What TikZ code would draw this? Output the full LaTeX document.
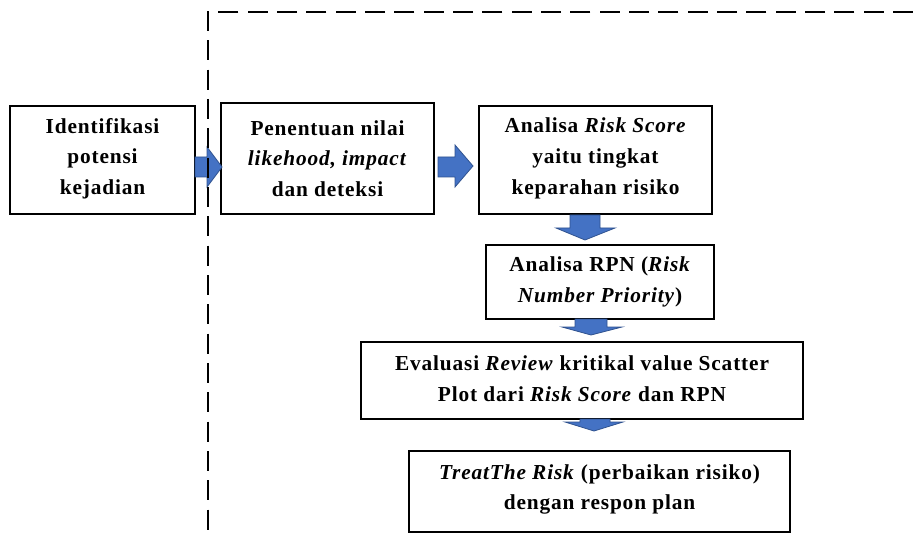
\documentclass[tikz,border=0pt]{standalone}
\usepackage{fontspec}
\setmainfont{Liberation Serif}[LetterSpace=4]
\usetikzlibrary{fit}
\definecolor{arrfill}{HTML}{4472C4}
\definecolor{arrdraw}{HTML}{2F528F}
\begin{document}
\begin{tikzpicture}[x=0.75pt,y=-0.75pt,
  box/.style={draw=black,line width=1.3pt,fill=white,inner sep=0pt},
  txt/.style={align=center,font=\fontsize{16}{23}\selectfont\bfseries,inner sep=0pt},
  blockarrow/.style={fill=arrfill,draw=arrdraw,line width=0.6pt,line join=miter},
  border/.style={line width=2.2pt,dash pattern=on 15pt off 7pt}]
\useasboundingbox[fill=white] (0,0) rectangle (913,538);
% boxes
\node[box,fit={(10,106)(195,214)}] (b1) {};
\node[box,fit={(221,103)(434,214)}] (b2) {};
\node[box,fit={(479,106)(712,214)}] (b3) {};
\node[box,fit={(486,245)(714,319)}] (b4) {};
\node[box,fit={(361,342)(803,419)}] (b5) {};
\node[box,fit={(409,451)(790,532)}] (b6) {};
% texts
\node[txt] (t1) at (102.5,158.5) {Identifikasi\\potensi\\kejadian};
\node[txt] (t2) at (327.5,158.5) {Penentuan nilai\\\textit{likehood, impact}\\dan deteksi};
\node[txt] (t3) at (595.5,158.5) {Analisa \textit{Risk Score}\\yaitu tingkat\\keparahan risiko};
\node[txt] (t4) at (600,282) {Analisa RPN (\textit{Risk}\\\textit{Number Priority})};
\node[txt] (t5) at (582,379) {Evaluasi \textit{Review} kritikal value Scatter\\Plot dari \textit{Risk Score} dan RPN};
\node[txt] (t6) at (599.5,489.5) {\textit{TreatThe Risk} (perbaikan risiko)\\dengan respon plan};
% block arrows
\draw[blockarrow] (195,157) -- (207,157) -- (207,147) -- (222,167) -- (207,187) -- (207,177) -- (195,177) -- cycle;
\draw[blockarrow] (438,157) -- (455,157) -- (455,145) -- (473,166) -- (455,187) -- (455,177) -- (438,177) -- cycle;
\draw[blockarrow] (570,215) -- (600,215) -- (600,228) -- (615,228) -- (585,240) -- (556,228) -- (570,228) -- cycle;
\draw[blockarrow] (575,319) -- (607,319) -- (607,327) -- (622,327) -- (591,335) -- (562,327) -- (575,327) -- cycle;
\draw[blockarrow] (580,419) -- (610,419) -- (610,422) -- (623,422) -- (594,431) -- (565,422) -- (580,422) -- cycle;
% dashed border
\coordinate (c1) at (913,12);
\coordinate (c2) at (208,12);
\coordinate (c3) at (208,538);
\draw[border] (c1) -- (c2) -- (c3);
\end{tikzpicture}
\end{document}
